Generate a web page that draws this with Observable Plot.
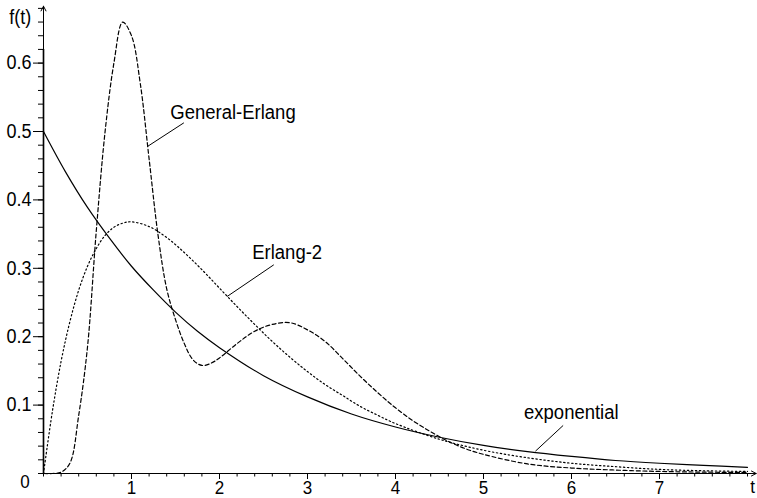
<!DOCTYPE html>
<html>
<head>
<meta charset="utf-8">
<script src="https://cdn.jsdelivr.net/npm/d3@7"></script>
<script src="https://cdn.jsdelivr.net/npm/@observablehq/plot@0.6"></script>
<style>
  html, body { margin: 0; padding: 0; background: #fff; }
  #chart svg { display: block; }
</style>
</head>
<body>
<div id="chart"></div>
<script>
// ---- Data ----
const expT = [0, 0.25, 0.5, 0.75, 1, 1.25, 1.5, 1.75, 2, 2.5, 3, 3.5, 4, 4.5, 5, 5.5, 6, 6.5, 7, 7.5, 8];
const expF = [0.5, 0.441, 0.389, 0.344, 0.303, 0.268, 0.236, 0.208, 0.184, 0.143, 0.112, 0.087, 0.068, 0.053, 0.041, 0.032, 0.025, 0.019, 0.015, 0.012, 0.009];

const erl2T = [0, 0.1, 0.2, 0.3, 0.4, 0.5, 0.6, 0.7, 0.8, 0.9, 1, 1.2, 1.4, 1.6, 1.8, 2, 2.2, 2.4, 2.6, 2.8, 3, 3.2, 3.4, 3.6, 3.8, 4, 4.5, 5, 5.5, 6, 6.5, 7, 7.5, 8];
const erl2F = [0, 0.090, 0.164, 0.222, 0.268, 0.303, 0.329, 0.348, 0.360, 0.366, 0.368, 0.361, 0.345, 0.323, 0.298, 0.271, 0.244, 0.218, 0.193, 0.170, 0.149, 0.130, 0.114, 0.098, 0.085, 0.073, 0.050, 0.034, 0.023, 0.015, 0.010, 0.006, 0.004, 0.003];

const genT = [0, 0.1, 0.2, 0.3, 0.4, 0.5, 0.6, 0.7, 0.8, 0.9, 1.0, 1.1, 1.2, 1.3, 1.4, 1.5, 1.6, 1.7, 1.8, 1.9, 2.0, 2.2, 2.4, 2.6, 2.8, 3.0, 3.2, 3.4, 3.6, 3.8, 4.0, 4.2, 4.4, 4.6, 4.8, 5.0, 5.5, 6.0, 6.5, 7.0, 7.5, 8.0];
const genF = [0, 0, 0.002, 0.015, 0.085, 0.185, 0.355, 0.50, 0.60, 0.66, 0.64, 0.57, 0.46, 0.35, 0.27, 0.225, 0.19, 0.166, 0.158, 0.161, 0.169, 0.19, 0.208, 0.218, 0.2205, 0.21, 0.193, 0.168, 0.142, 0.118, 0.096, 0.077, 0.061, 0.047, 0.036, 0.028, 0.014, 0.008, 0.005, 0.003, 0.002, 0.0015];

const xTicks = [1, 2, 3, 4, 5, 6, 7];
const yTicks = [0.1, 0.2, 0.3, 0.4, 0.5, 0.6];

// annotation labels with leader lines
const labelNames = ["General-Erlang", "Erlang-2", "exponential"];

// ---- Build tables ----
const expData = expT.map((t, i) => ({t, f: expF[i]}));
const erl2Data = erl2T.map((t, i) => ({t, f: erl2F[i]}));
const genData = genT.map((t, i) => ({t, f: genF[i]}));

const FONT = "'Liberation Sans', Arial, Helvetica, sans-serif";
const xMax = 714 / 88;
const yMax = 468 / 684;

const minorX = d3.range(0, 8.01, 0.2);
const minorY = d3.range(0, 0.681, 0.02);

const plot = Plot.plot({
  width: 757,
  height: 498,
  marginLeft: 43,
  marginRight: 0,
  marginTop: 5,
  marginBottom: 25,
  style: {fontFamily: FONT, fontSize: "18px", background: "#fff", color: "#000", overflow: "visible"},
  x: {domain: [0, xMax], nice: false},
  y: {domain: [0, yMax], nice: false},
  marks: [
    // y axis: gray thick part and thin black line with arrow
    Plot.ruleX([0], {y1: 0, y2: 0.62, stroke: "#8a8a8a", strokeWidth: 2.4}),
    Plot.arrow([0], {x1: 0, y1: 0, x2: 0, y2: yMax - 0.001, stroke: "#000", strokeWidth: 1, headLength: 8, headAngle: 55}),
    // x axis with arrow
    Plot.arrow([0], {x1: 0, y1: 0, x2: xMax - 0.015, y2: 0, stroke: "#000", strokeWidth: 1, headLength: 8, headAngle: 55}),
    // minor ticks
    Plot.axisX({ticks: minorX, tickSize: 3.5, text: null, stroke: "#000", strokeWidth: 1, label: null}),
    Plot.axisY({ticks: minorY, tickSize: 5, text: null, stroke: "#000", strokeWidth: 1, label: null}),
    // major ticks and labels
    Plot.axisX({ticks: xTicks, tickSize: 6, tickPadding: 1, stroke: "#000", fill: "#000", strokeWidth: 1, label: null, fontSize: 17, tickFormat: d3.format("d")}),
    Plot.axisY({ticks: yTicks, tickSize: 10, tickPadding: 2, stroke: "#000", fill: "#000", strokeWidth: 1, label: null, fontSize: 18, tickFormat: d3.format(".1f")}),
    // origin label and axis names
    Plot.text(["0"], {x: -0.21, y: -0.0125, text: d => d, fontSize: 17, fill: "#000", textAnchor: "middle", lineAnchor: "middle"}),
    Plot.text(["t"], {x: 8.057, y: -0.0195, text: d => d, fontSize: 17, fill: "#000", textAnchor: "middle", lineAnchor: "middle"}),
    Plot.text(["f(t)"], {x: -0.265, y: 0.666, text: d => d, fontSize: 18, fill: "#000", textAnchor: "middle", lineAnchor: "middle"}),
    // curves
    Plot.line(expData, {x: "t", y: "f", stroke: "#000", strokeWidth: 1.2, curve: "catmull-rom"}),
    Plot.line(erl2Data, {x: "t", y: "f", stroke: "#000", strokeWidth: 1.2, strokeDasharray: "1.4,2.6", curve: "catmull-rom"}),
    Plot.line(genData, {x: "t", y: "f", stroke: "#000", strokeWidth: 1.2, strokeDasharray: "4,2.6", curve: "catmull-rom"}),
    // leader lines
    Plot.link([labelNames[0]], {x1: 1.595, y1: 0.5127, x2: 1.18, y2: 0.478, stroke: "#000", strokeWidth: 1}),
    Plot.link([labelNames[1]], {x1: 2.617, y1: 0.3051, x2: 2.087, y2: 0.2588, stroke: "#000", strokeWidth: 1}),
    Plot.link([labelNames[2]], {x1: 5.905, y1: 0.0702, x2: 5.59, y2: 0.0326, stroke: "#000", strokeWidth: 1}),
    // labels
    Plot.text([labelNames[0]], {x: 2.153, y: 0.528, text: d => d, fontSize: 18.5, fill: "#000", textAnchor: "middle", lineAnchor: "middle"}),
    Plot.text([labelNames[1]], {x: 2.769, y: 0.3235, text: d => d, fontSize: 18.5, fill: "#000", textAnchor: "middle", lineAnchor: "middle"}),
    Plot.text([labelNames[2]], {x: 5.998, y: 0.0896, text: d => d, fontSize: 18.5, fill: "#000", textAnchor: "middle", lineAnchor: "middle"})
  ]
});

// slightly taller glyphs, like the reference
const SY = 1.08;
plot.querySelectorAll("text").forEach(el => {
  const tr = el.getAttribute("transform");
  if (tr) {
    el.setAttribute("transform", tr + ` scale(1,${SY})`);
  } else if (el.hasAttribute("x") || el.hasAttribute("y")) {
    const x = +(el.getAttribute("x") || 0), y = +(el.getAttribute("y") || 0);
    el.removeAttribute("x"); el.removeAttribute("y");
    el.setAttribute("transform", `translate(${x},${y}) scale(1,${SY})`);
  }
});

document.getElementById("chart").appendChild(plot);
</script>
</body>
</html>
